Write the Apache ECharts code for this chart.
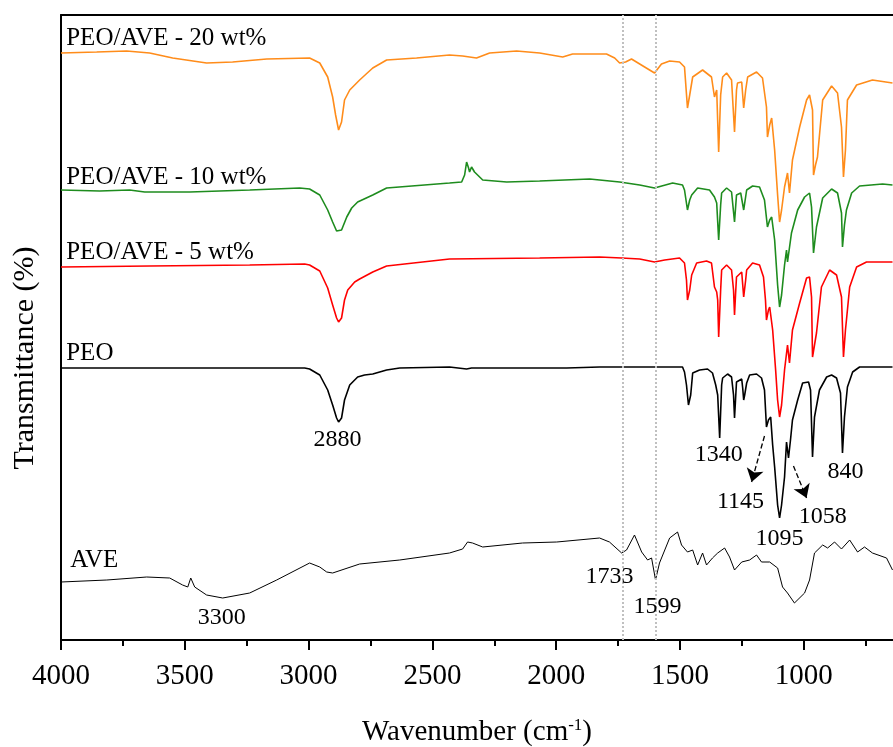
<!DOCTYPE html>
<html>
<head>
<meta charset="utf-8">
<script src="https://cdn.jsdelivr.net/npm/echarts@6/dist/echarts.min.js"></script>
<style>
  html, body { margin: 0; padding: 0; background: #fff; }
  #chart { width: 893px; height: 747px; }
</style>
</head>
<body>
<div id="chart"></div>
<script>
// FTIR spectra, [wavenumber (cm-1), stacked transmittance (a.u.)]
var peoAve20 = [
	[4000,587],[3856,588],[3735,589],[3642,587],[3549,582],[3412,577],[3307,578],[3169,581],[2996,582],
	[2955,577],[2923,563],[2903,543],[2891,525],[2879,510],[2867,518],[2855,540],[2834,550],[2794,560],
	[2741,572],[2685,580],[2564,582],[2431,585],[2378,584],[2322,582],[2269,587],[2160,589],[2067,587],
	[1974,583],[1934,586],[1797,586],[1764,582],[1744,577],[1720,578],[1696,581],[1643,573],[1603,567],
	[1575,576],[1542,579],[1502,578],[1482,573],[1470,532],[1461,545],[1449,563],[1409,570],[1373,563],
	[1361,543],[1352,550],[1344,488],[1336,545],[1328,563],[1312,567],[1292,560],[1280,508],[1272,550],
	[1268,557],[1251,558],[1243,532],[1235,550],[1227,563],[1191,568],[1167,562],[1151,533],[1147,503],
	[1138,515],[1130,522],[1118,490],[1106,445],[1098,418],[1090,430],[1078,453],[1066,467],[1058,447],
	[1046,480],[1017,513],[989,540],[977,545],[965,530],[961,465],[953,475],[945,483],[924,540],[888,554],
	[864,547],[848,513],[840,463],[832,490],[824,540],[787,555],[723,560],[642,557]
];

var peoAve10 = [
	[4000,450],[3844,449],[3723,450],[3662,448],[3480,448],[3238,450],[3036,452],[2996,451],[2955,445],
	[2923,430],[2903,418],[2887,409],[2879,407],[2867,410],[2846,423],[2826,432],[2802,438],[2741,445],
	[2685,452],[2431,457],[2382,458],[2370,465],[2362,478],[2354,472],[2350,468],[2342,473],[2330,468],
	[2297,460],[2200,458],[2067,459],[1865,461],[1744,458],[1663,455],[1603,452],[1530,457],[1490,455],
	[1482,450],[1470,430],[1461,440],[1453,445],[1429,452],[1381,450],[1361,443],[1352,437],[1344,400],
	[1336,435],[1332,447],[1312,452],[1292,448],[1280,418],[1272,445],[1255,447],[1243,430],[1231,450],
	[1207,454],[1179,453],[1159,440],[1147,413],[1138,420],[1130,423],[1118,400],[1106,355],[1098,333],
	[1090,345],[1078,375],[1070,390],[1066,378],[1050,407],[1025,430],[997,443],[977,447],[969,433],
	[961,387],[949,413],[924,442],[888,451],[864,447],[848,427],[844,393],[836,415],[828,430],[807,447],
	[775,454],[682,456],[642,455]
];

var peoAve5 = [
	[4000,373],[3642,374],[3238,375],[3016,376],[2996,375],[2955,369],[2923,352],[2903,335],[2887,322],
	[2879,318],[2867,322],[2855,340],[2842,350],[2814,358],[2794,361],[2741,368],[2685,374],[2431,381],
	[2067,382],[1825,383],[1736,382],[1663,381],[1603,378],[1562,380],[1502,382],[1482,377],[1474,360],
	[1470,340],[1461,350],[1453,365],[1433,377],[1393,379],[1373,377],[1361,353],[1352,348],[1348,340],
	[1344,303],[1336,350],[1332,370],[1312,375],[1292,370],[1284,350],[1280,325],[1276,345],[1272,363],
	[1251,368],[1243,343],[1235,360],[1231,370],[1207,377],[1179,375],[1163,363],[1155,340],[1151,320],
	[1143,330],[1138,333],[1126,310],[1114,270],[1106,240],[1098,223],[1090,235],[1078,270],[1066,295],
	[1058,277],[1046,310],[1017,337],[989,362],[977,363],[969,343],[965,283],[957,295],[949,307],[929,353],
	[896,370],[868,365],[848,343],[840,283],[832,310],[828,320],[815,353],[787,373],[747,378],[642,378]
];

var peo = [
	[4000,272],[3642,272],[3238,272],[3016,272],[2996,271],[2955,265],[2923,250],[2903,235],[2887,222],
	[2879,218],[2867,222],[2855,240],[2834,255],[2802,263],[2774,265],[2741,266],[2685,270],[2632,272],
	[2431,273],[2362,271],[2342,272],[1958,272],[1825,273],[1490,273],[1482,268],[1474,255],[1466,235],
	[1457,245],[1449,267],[1421,270],[1389,271],[1369,267],[1356,255],[1352,253],[1348,245],[1340,202],
	[1332,255],[1328,262],[1308,266],[1292,263],[1284,245],[1280,222],[1276,240],[1272,258],[1251,261],
	[1247,252],[1243,240],[1239,245],[1231,257],[1219,265],[1191,266],[1171,262],[1159,250],[1151,213],
	[1143,220],[1134,223],[1126,195],[1118,173],[1106,135],[1098,122],[1090,135],[1078,163],[1070,198],
	[1062,182],[1054,200],[1046,220],[1025,240],[1005,257],[981,258],[973,250],[965,183],[957,223],
	[937,250],[908,263],[888,265],[868,262],[852,247],[844,187],[836,223],[824,253],[803,268],[775,273],
	[642,273]
];

var ave = [
	[4000,58],[3815,60],[3654,63],[3561,62],[3509,55],[3488,53],[3476,62],[3460,53],[3412,45],[3347,42],
	[3238,47],[3129,60],[2996,77],[2955,73],[2927,68],[2903,67],[2794,76],[2632,80],[2431,87],[2378,91],
	[2358,98],[2338,97],[2297,93],[2136,97],[1998,98],[1825,102],[1785,98],[1736,87],[1716,90],[1684,105],
	[1655,88],[1631,80],[1615,82],[1599,60],[1583,77],[1542,102],[1510,108],[1494,95],[1470,88],[1449,90],
	[1429,75],[1409,87],[1393,75],[1369,82],[1348,87],[1320,92],[1300,83],[1280,70],[1251,78],[1219,80],
	[1191,85],[1171,78],[1138,78],[1106,72],[1086,53],[1066,47],[1038,37],[997,47],[977,60],[957,87],
	[924,95],[904,92],[876,98],[848,91],[815,100],[783,88],[755,93],[723,87],[666,82],[642,70]
];

// curve names, written at the left of each trace
var curveNames = [
	[3981, 602, 'PEO/AVE - 20 wt%'],
	[3981, 463, 'PEO/AVE - 10 wt%'],
	[3981, 388, 'PEO/AVE - 5 wt%'],
	[3981, 287, 'PEO'],
	[3965, 80, 'AVE']
];

// band labels
var bandLabels = [
	[2883, 200, '2880'],
	[3351, 22, '3300'],
	[1785, 63, '1733'],
	[1591, 33, '1599'],
	[1344, 185, '1340'],
	[1256, 138, '1145'],
	[1098, 101, '1095'],
	[924, 123, '1058'],
	[832, 168, '840']
];

// dashed arrows pointing to the shoulders
var arrows = [
	[[1159, 204], [1211, 158]],
	[[1042, 174], [989, 142]]
];

var markedBands = [1733, 1599];
var majorTicks = [4000, 3500, 3000, 2500, 2000, 1500, 1000];
var minorTicks = [3750, 3250, 2750, 2250, 1750, 1250, 750];

var font = 'Liberation Serif';
var chart = echarts.init(document.getElementById('chart'));

function spectrum(name, data, color, width) {
	return {
		name: name,
		type: 'line',
		data: data,
		showSymbol: false,
		symbol: 'none',
		lineStyle: { color: color, width: width },
		itemStyle: { color: color },
		z: 3
	};
}

function textSeries(data, size, position) {
	return {
		type: 'scatter',
		data: data,
		symbolSize: 1,
		itemStyle: { color: 'rgba(0,0,0,0)' },
		label: {
			show: true,
			position: position,
			distance: 0,
			fontFamily: font,
			fontSize: size,
			color: '#000',
			opacity: 1,
			formatter: function(p) { return p.value[2]; }
		},
		emphasis: { disabled: true },
		silent: true,
		z: 5
	};
}

var option = {
	animation: false,
	grid: { left: 61, right: 0, top: 15, bottom: 107, outerBoundsMode: 'none' },
	xAxis: [{
		type: 'value',
		inverse: true,
		min: 640,
		max: 4000,
		position: 'bottom',
		axisLine: { lineStyle: { color: '#000', width: 2 } },
		axisTick: { customValues: majorTicks, length: 10, lineStyle: { color: '#000', width: 2 } },
		axisLabel: {
			customValues: majorTicks,
			fontFamily: font, fontSize: 29, color: '#000', margin: 22,
			formatter: function(v) { return String(v); }
		},
		splitLine: { show: false },
		name: '{a|Wavenumber (cm}{s|-1}{a|)}',
		nameLocation: 'middle',
		nameGap: 77,
		nameTextStyle: {
			rich: {
				a: { fontFamily: font, fontSize: 29, color: '#000' },
				s: { fontFamily: font, fontSize: 17, color: '#000', padding: [0, 0, 14, 0] }
			}
		}
	}, {
		type: 'value',
		inverse: true,
		min: 640,
		max: 4000,
		position: 'bottom',
		axisLine: { show: false },
		axisTick: { customValues: minorTicks, length: 6, lineStyle: { color: '#000', width: 2 } },
		axisLabel: { show: false },
		splitLine: { show: false }
	}, {
		type: 'value',
		inverse: true,
		min: 640,
		max: 4000,
		position: 'top',
		axisLine: { lineStyle: { color: '#000', width: 2 } },
		axisTick: { show: false },
		axisLabel: { show: false },
		splitLine: { show: false }
	}],
	yAxis: {
		type: 'value',
		min: 0,
		max: 625,
		axisLine: { show: true, lineStyle: { color: '#000', width: 2 } },
		axisTick: { show: false },
		axisLabel: { show: false },
		splitLine: { show: false }
	},
	graphic: [{
		type: 'text',
		x: 25,
		y: 358,
		rotation: Math.PI / 2,
		style: {
			text: 'Transmittance (%)',
			font: '30px "Liberation Serif"',
			fill: '#000',
			textAlign: 'center',
			textVerticalAlign: 'middle'
		}
	}],
	series: [
		{
			type: 'line',
			data: [],
			markLine: {
				silent: true,
				symbol: 'none',
				label: { show: false },
				lineStyle: { color: '#c0c0c0', type: 'dotted', width: 2 },
				data: markedBands.map(function(w) { return { xAxis: w }; })
			}
		},
		spectrum('AVE', ave, '#000', 1),
		spectrum('PEO', peo, '#000', 1.6),
		spectrum('PEO/AVE - 5 wt%', peoAve5, '#ff0000', 1.6),
		spectrum('PEO/AVE - 10 wt%', peoAve10, '#1e8c1e', 1.6),
		spectrum('PEO/AVE - 20 wt%', peoAve20, '#ff8c1a', 1.6),
		{
			type: 'line',
			data: [],
			markLine: {
				silent: true,
				symbol: ['none', 'arrow'],
				symbolSize: 13,
				label: { show: false },
				lineStyle: { color: '#000', type: 'dashed', width: 1.3 },
				data: arrows.map(function(a) {
					return [{ coord: a[0] }, { coord: a[1] }];
				})
			}
		},
		textSeries(curveNames, 25, 'right'),
		textSeries(bandLabels, 24, 'inside')
	]
};

chart.setOption(option);
</script>
</body>
</html>
